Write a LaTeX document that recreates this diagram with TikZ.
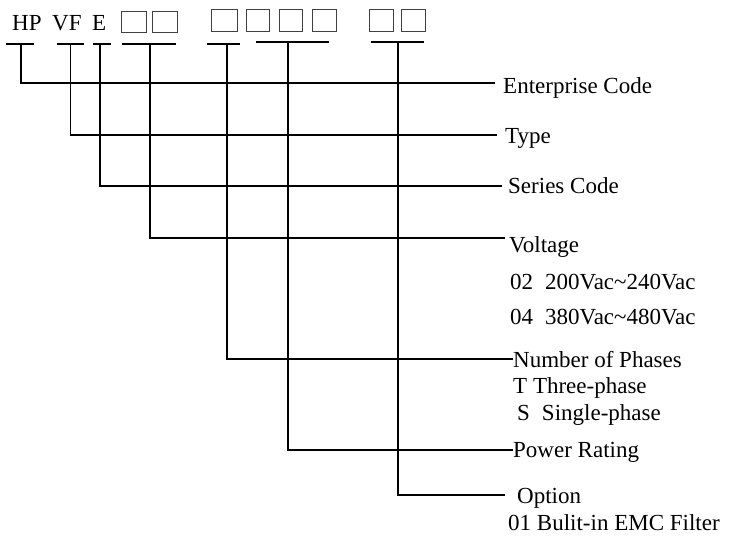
\documentclass[tikz,border=0pt]{standalone}
\usepackage{fontspec}
\setmainfont{Liberation Serif}
\usetikzlibrary{positioning}

\tikzset{
  lead/.style = {line width=1.5pt},
  cell/.style = {draw=black!75, line width=0.9pt, anchor=north west, inner sep=0pt, minimum width=24pt, minimum height=22pt},
  txt/.style  = {anchor=base west, inner sep=0pt, font=\fontsize{23}{27}\selectfont}
}

\begin{document}
\begin{tikzpicture}[x=1pt, y=-1pt]
\useasboundingbox ( 0, 0 ) rectangle ( 729, 539 );

% Model code
\node (hp) at ( 12, 30 ) [txt] {HP};
\node (vf) at ( 52, 30 ) [txt] {VF};
\node (ser) at ( 92, 30 ) [txt] {E};

\node (v1) at ( 121, 11 ) [cell, minimum width=25pt, minimum height=21pt] {};
\node (v2) at ( 152, 11 ) [cell, minimum width=25pt, minimum height=21pt] {};

\node (p1) at ( 211, 9 ) [cell, minimum width=26pt] {};
\node (w1) at ( 246, 9 ) [cell, minimum width=23pt] {};
\node (w2) at ( 279, 9 ) [cell, minimum width=23pt] {};
\node (w3) at ( 312, 9 ) [cell] {};

\node (o1) at ( 369, 9 ) [cell] {};
\node (o2) at ( 401, 9 ) [cell] {};

% Stem tops
\coordinate (sEnt) at ( 21, 44 );
\coordinate (sType) at ( 70.5, 44 );
\coordinate (sSer) at ( 100, 44 );
\coordinate (sVolt) at ( 150, 44 );
\coordinate (sPh) at ( 227, 44 );
\coordinate (sPow) at ( 288, 42 );
\coordinate (sOpt) at ( 398, 42 );

% Line ends
\coordinate (eEnt) at ( 495, 83 );
\coordinate (eType) at ( 497, 135 );
\coordinate (eSer) at ( 502, 186 );
\coordinate (eVolt) at ( 505, 238 );
\coordinate (ePh) at ( 513, 359 );
\coordinate (ePow) at ( 513, 450 );
\coordinate (eOpt) at ( 505, 495 );

% Bars under the code
\draw [lead] ([xshift=-15pt]sEnt) -- ([xshift=13pt]sEnt);
\draw [lead] ([xshift=-14pt]sType) -- ([xshift=13pt]sType);
\draw [lead] ([xshift=-7pt]sSer) -- ([xshift=11pt]sSer);
\draw [lead] ([xshift=-28pt]sVolt) -- ([xshift=26pt]sVolt);
\draw [lead] ([xshift=-20pt]sPh) -- ([xshift=13pt]sPh);
\draw [lead] ([xshift=-32pt]sPow) -- ([xshift=41pt]sPow);
\draw [lead] ([xshift=-27pt]sOpt) -- ([xshift=26pt]sOpt);

% Leaders
\draw [lead] (sEnt) |- (eEnt);
\draw [lead] (sType) |- (eType);
\draw [lead] (sSer) |- (eSer);
\draw [lead] (sVolt) |- (eVolt);
\draw [lead] (sPh) |- (ePh);
\draw [lead] (sPow) |- (ePow);
\draw [lead] (sOpt) |- (eOpt);

% Meanings
\node (ent) at ( 503, 93 ) [txt] {Enterprise Code};
\node (type) at ( 505, 143 ) [txt] {Type};
\node (series) at ( 508, 193 ) [txt] {Series Code};
\node (volt) at ( 509, 252 ) [txt] {Voltage};
\node (volta) at ( 510, 289 ) [txt] {02\hspace{12pt}200Vac\textasciitilde 240Vac};
\node (voltb) at ( 510, 324 ) [txt] {04\hspace{12pt}380Vac\textasciitilde 480Vac};
\node (phase) at ( 513, 367 ) [txt] {Number of Phases};
\node (phasea) at ( 513, 393 ) [txt] {T Three-phase};
\node (phaseb) at ( 517, 420 ) [txt] {S\hspace{12pt}Single-phase};
\node (power) at ( 513, 457 ) [txt] {Power Rating};
\node (opt) at ( 517, 503 ) [txt] {Option};
\node (opta) at ( 508, 530 ) [txt] {01 Bulit-in EMC Filter};

\end{tikzpicture}
\end{document}
